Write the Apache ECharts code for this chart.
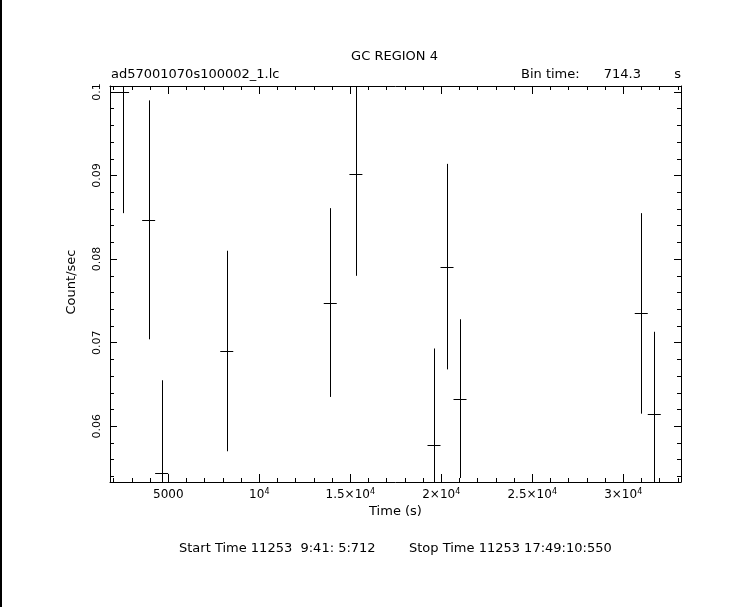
<!DOCTYPE html>
<html>
<head>
<meta charset="utf-8">
<script src="https://cdn.jsdelivr.net/npm/echarts@6/dist/echarts.min.js"></script>
<style>
html,body{margin:0;padding:0;background:#fff;}
#chart{width:743px;height:607px;}
</style>
</head>
<body>
<div id="chart"></div>
<script>
// ---- data ----
const times  = [2487, 3918, 4633, 8211, 13900, 15309, 19602, 20317, 21032, 30993, 31708];
const rates  = [0.1000, 0.0847, 0.0544, 0.0690, 0.0748, 0.0902, 0.0578, 0.0791, 0.0633, 0.0735, 0.0615];
const errors = [0.0145, 0.0143, 0.0111, 0.0120, 0.0113, 0.0122, 0.0115, 0.0123, 0.0095, 0.0120, 0.0098];
const binTime = 714.3;

const xTickValues = [5000, 10000, 15000, 20000, 25000, 30000];
const xTickLabels = ['{n|5000}', '{n|10}{s|4}', '{n|1.5×10}{s|4}', '{n|2×10}{s|4}', '{n|2.5×10}{s|4}', '{n|3×10}{s|4}'];
const xMinorValues = [2000,3000,4000,6000,7000,8000,9000,11000,12000,13000,14000,16000,17000,18000,19000,21000,22000,23000,24000,26000,27000,28000,29000,31000,32000,33000];
const yTickValues = [0.06, 0.07, 0.08, 0.09, 0.1];
const yTickLabels = ['0.06', '0.07', '0.08', '0.09', '0.1'];
const yMinorValues = [0.054,0.056,0.058,0.062,0.064,0.066,0.068,0.072,0.074,0.076,0.078,0.082,0.084,0.086,0.088,0.092,0.094,0.096,0.098];

const xMin = 1794, xMax = 33177;
const yMin = 0.05332, yMax = 0.10072;

const FONT = 'DejaVu Sans';
const ink = '#000';
const TF = '13px ' + FONT;

const chart = echarts.init(document.getElementById('chart'), null, {renderer: 'canvas'});

function xAxisDef(pos, major) {
  const vals = major ? xTickValues : xMinorValues;
  return {
    type: 'value', position: pos, min: xMin, max: xMax,
    axisLine: {show: major, onZero: false, lineStyle: {color: ink, width: 1}},
    axisTick: {show: true, inside: true, length: major ? 8 : 4, customValues: vals, lineStyle: {color: ink, width: 1}},
    axisLabel: (major && pos === 'bottom') ? {
      show: true, customValues: xTickValues, margin: 6,
      formatter: function (v) { const i = xTickValues.indexOf(v); return i >= 0 ? xTickLabels[i] : ''; },
      rich: {
        n: {fontFamily: FONT, fontSize: 12, color: ink, lineHeight: 14},
        s: {fontFamily: FONT, fontSize: 8, color: ink, verticalAlign: 'top', lineHeight: 8, padding: [0, 0, 6, 0]}
      }
    } : {show: false},
    splitLine: {show: false}
  };
}
function yAxisDef(pos, major) {
  const vals = major ? yTickValues : yMinorValues;
  return {
    type: 'value', position: pos, min: yMin, max: yMax,
    axisLine: {show: major, onZero: false, lineStyle: {color: ink, width: 1}},
    axisTick: {show: true, inside: true, length: major ? 7 : 4, customValues: vals, lineStyle: {color: ink, width: 1}},
    axisLabel: (major && pos === 'left') ? {
      show: true, customValues: yTickValues, rotate: 90, margin: 7,
      fontFamily: FONT, fontSize: 11, color: ink,
      formatter: function (v) {
        for (let i = 0; i < yTickValues.length; i++) if (Math.abs(yTickValues[i] - v) < 1e-9) return yTickLabels[i];
        return '';
      }
    } : {show: false},
    splitLine: {show: false}
  };
}

const seriesData = times.map((t, i) => [t, rates[i], errors[i]]);

const option = {
  backgroundColor: '#fff',
  animation: false,
  grid: {left: 110, top: 86, right: 62, bottom: 125, containLabel: false},
  xAxis: [xAxisDef('bottom', true), xAxisDef('bottom', false), xAxisDef('top', true), xAxisDef('top', false)],
  yAxis: [yAxisDef('left', true), yAxisDef('left', false), yAxisDef('right', true), yAxisDef('right', false)],
  series: [{
    type: 'custom', xAxisIndex: 0, yAxisIndex: 0, clip: true,
    data: seriesData,
    renderItem: function (params, api) {
      const x = api.value(0), y = api.value(1), e = api.value(2);
      const c = api.coord([x, y]);
      const l = api.coord([x - binTime / 2, y]);
      const r = api.coord([x + binTime / 2, y]);
      const top = api.coord([x, y + e]);
      const bot = api.coord([x, y - e]);
      const cx = Math.round(c[0]) + 0.5, cy = Math.round(c[1]) + 0.5;
      const st = {stroke: ink, lineWidth: 1};
      return {type: 'group', children: [
        {type: 'line', shape: {x1: l[0], y1: cy, x2: r[0], y2: cy}, style: st},
        {type: 'line', shape: {x1: cx, y1: top[1], x2: cx, y2: bot[1]}, style: st}
      ]};
    }
  }],
  graphic: [
    {type: 'rect', left: 0, top: 0, shape: {x: 0, y: 0, width: 2, height: 607}, style: {fill: ink}},
    {type: 'text', x: 394.5, y: 56.5, style: {text: 'GC REGION 4', font: TF, fill: ink, textAlign: 'center', textVerticalAlign: 'middle'}},
    {type: 'text', x: 111, y: 75, style: {text: 'ad57001070s100002_1.lc', font: TF, fill: ink, textAlign: 'left', textVerticalAlign: 'middle'}},
    {type: 'text', x: 521, y: 75, style: {text: 'Bin time:', font: TF, fill: ink, textAlign: 'left', textVerticalAlign: 'middle'}},
    {type: 'text', x: 641, y: 75, style: {text: '714.3', font: TF, fill: ink, textAlign: 'right', textVerticalAlign: 'middle'}},
    {type: 'text', x: 681, y: 75, style: {text: 's', font: TF, fill: ink, textAlign: 'right', textVerticalAlign: 'middle'}},
    {type: 'text', x: 71.5, y: 282, rotation: Math.PI / 2, style: {text: 'Count/sec', font: TF, fill: ink, textAlign: 'center', textVerticalAlign: 'middle'}},
    {type: 'text', x: 395.5, y: 511.5, style: {text: 'Time (s)', font: TF, fill: ink, textAlign: 'center', textVerticalAlign: 'middle'}},
    {type: 'text', x: 179, y: 549, style: {text: 'Start Time 11253  9:41: 5:712', font: TF, fill: ink, textAlign: 'left', textVerticalAlign: 'middle'}},
    {type: 'text', x: 409, y: 549, style: {text: 'Stop Time 11253 17:49:10:550', font: TF, fill: ink, textAlign: 'left', textVerticalAlign: 'middle'}}
  ]
};
chart.setOption(option);
</script>
</body>
</html>
